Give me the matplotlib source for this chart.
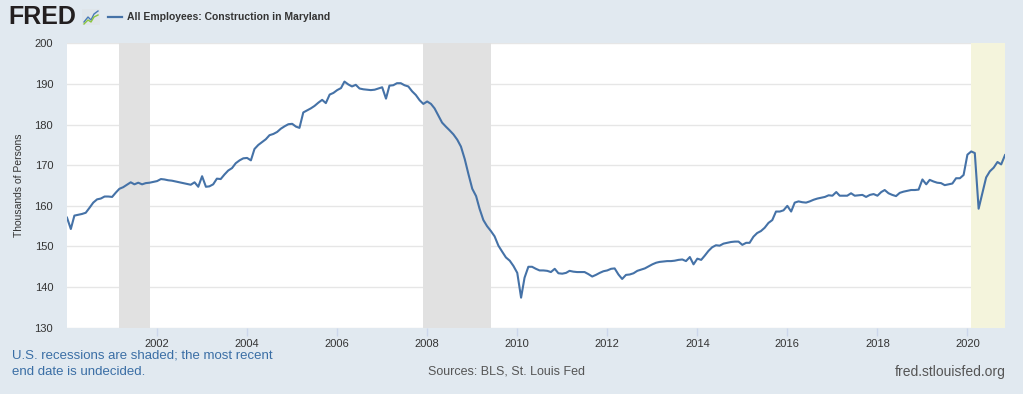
import matplotlib
matplotlib.use("Agg")
import matplotlib.pyplot as plt
import matplotlib.dates as mdates
from matplotlib.lines import Line2D
from matplotlib.patches import Rectangle
import pandas as pd

plt.rcParams['font.family'] = ['Liberation Sans', 'DejaVu Sans']

# ---- data (thousands of persons, monthly from Jan 2000) ----
start_date = "2000-01-01"
employees = [
    157.1, 154.3, 157.6, 157.8, 158.0, 158.3, 159.5, 160.8, 161.6, 161.8, 162.3, 162.3,
    162.2, 163.3, 164.2, 164.6, 165.2, 165.8, 165.3, 165.7, 165.3, 165.6, 165.7, 165.9,
    166.1, 166.6, 166.5, 166.3, 166.2, 166.0, 165.8, 165.6, 165.4, 165.2, 165.8, 164.7,
    167.3, 164.7, 164.8, 165.3, 166.7, 166.6, 167.7, 168.7, 169.3, 170.5, 171.2, 171.7,
    171.8, 171.2, 174.0, 175.0, 175.7, 176.4, 177.4, 177.7, 178.2, 179.0, 179.6, 180.1,
    180.2, 179.5, 179.2, 183.0, 183.5, 184.0, 184.6, 185.4, 186.1, 185.3, 187.4, 187.8,
    188.5, 189.0, 190.6, 189.9, 189.4, 189.8, 188.9, 188.7, 188.6, 188.5, 188.6, 188.9,
    189.2, 186.4, 189.6, 189.7, 190.2, 190.2, 189.7, 189.4, 188.2, 187.3, 186.0, 185.1,
    185.7, 185.1, 184.0, 182.2, 180.5, 179.5, 178.6, 177.6, 176.3, 174.6, 171.5, 167.8,
    164.2, 162.4, 159.3, 156.5, 155.0, 153.8, 152.5, 150.2, 148.7, 147.3, 146.5, 145.2,
    143.5, 137.4, 142.3, 145.0, 145.0, 144.5, 144.1, 144.1, 144.0, 143.7, 144.5, 143.4,
    143.3, 143.5, 144.0, 143.8, 143.7, 143.7, 143.7, 143.2, 142.6, 143.0, 143.5, 143.9,
    144.1, 144.5, 144.6, 143.1, 142.0, 143.0, 143.1, 143.4, 144.0, 144.3, 144.6, 145.1,
    145.6, 146.0, 146.2, 146.3, 146.4, 146.4, 146.5, 146.7, 146.8, 146.4, 147.4, 145.6,
    147.0, 146.7, 147.7, 148.9, 149.8, 150.3, 150.2, 150.7, 150.9, 151.1, 151.2, 151.2,
    150.4, 150.9, 150.9, 152.4, 153.3, 153.8, 154.6, 155.8, 156.5, 158.6, 158.6, 158.9,
    160.0, 158.6, 160.8, 161.1, 160.9, 160.8, 161.1, 161.5, 161.8, 162.0, 162.2, 162.6,
    162.5, 163.4, 162.5, 162.5, 162.5, 163.1, 162.5, 162.6, 162.7, 162.2, 162.7, 162.9,
    162.5, 163.4, 163.9, 163.1, 162.7, 162.4, 163.2, 163.5, 163.7, 163.9, 163.9, 164.0,
    166.5, 165.3, 166.4, 166.0, 165.7, 165.6, 165.1, 165.3, 165.5, 166.8, 166.8, 167.6,
    172.6, 173.4, 173.0, 159.3, 163.1, 167.0, 168.5, 169.4, 170.8, 170.2, 172.5,
]
recession_starts = ["2001-03-01", "2007-12-01", "2020-02-01"]
recession_ends = ["2001-11-01", "2009-06-01", "2020-11-01"]
recession_colors = ["#e1e1e1", "#e1e1e1", "#f4f4dc"]
tick_years = [2002, 2004, 2006, 2008, 2010, 2012, 2014, 2016, 2018, 2020]
y_ticks = [130, 140, 150, 160, 170, 180, 190, 200]

dates = pd.date_range(start_date, periods=len(employees), freq="MS")

BG = "#e1e9f0"
LINE = "#4572a7"

fig = plt.figure(figsize=(10.23, 3.94), dpi=100, facecolor=BG)
ax = fig.add_axes([67 / 1023, 1 - 327.7 / 394, 938 / 1023, (327.7 - 43.4) / 394])
ax.set_facecolor("white")

for s, e, c in zip(recession_starts, recession_ends, recession_colors):
    ax.axvspan(pd.Timestamp(s), pd.Timestamp(e), color=c, lw=0, zorder=1)

ax.plot(dates, employees, color=LINE, lw=1.5, zorder=3, solid_joinstyle="round")

ax.set_xlim(dates[0], dates[-1])
ax.set_ylim(130, 200)
ax.set_yticks(y_ticks)
ax.set_xticks([pd.Timestamp(f"{y}-01-01") for y in tick_years])
ax.xaxis.set_major_formatter(mdates.DateFormatter("%Y"))

ax.grid(axis="y", color="#e6e6e6", lw=1, zorder=0)
ax.set_axisbelow(True)
for sp in ax.spines.values():
    sp.set_visible(False)

ax.tick_params(axis="y", length=0, pad=10, labelsize=8, labelcolor="#333333")
ax.tick_params(axis="x", length=6, width=1, color="#ccd6eb", pad=2,
               labelsize=8, labelcolor="#333333")

ax.set_ylabel("Thousands of Persons", fontsize=7.5, color="#333333")
ax.yaxis.set_label_coords(-0.046, 0.5)

# ---- header ----
fig.text(8 / 1023, 1 - 17 / 394, "FRED", fontsize=18, fontweight="bold",
         color="#231f20", va="center", ha="left")
# small logo icon
fig.patches.append(Rectangle((82 / 1023, 1 - 25 / 394), 18 / 1023, 16 / 394,
                             transform=fig.transFigure, facecolor="#dfe5ea",
                             edgecolor="none"))
fig.lines.append(Line2D([84 / 1023, 88 / 1023, 91 / 1023, 94 / 1023, 98 / 1023],
                        [1 - 22 / 394, 1 - 17 / 394, 1 - 20 / 394, 1 - 14 / 394, 1 - 11 / 394],
                        transform=fig.transFigure, color="#4a7bb7", lw=1))
fig.lines.append(Line2D([84 / 1023, 88 / 1023, 91 / 1023, 94 / 1023, 98 / 1023],
                        [1 - 24 / 394, 1 - 20 / 394, 1 - 22 / 394, 1 - 17 / 394, 1 - 15 / 394],
                        transform=fig.transFigure, color="#8cc63f", lw=1))
fig.lines.append(Line2D([108 / 1023, 122 / 1023], [1 - 17 / 394, 1 - 17 / 394],
                        transform=fig.transFigure, color=LINE, lw=1.6))
fig.text(127 / 1023, 1 - 17 / 394, "All Employees: Construction in Maryland",
         fontsize=7.5, fontweight="bold", color="#333333", va="center", ha="left")

# ---- footer ----
fig.text(12 / 1023, 1 - 356 / 394, "U.S. recessions are shaded; the most recent",
         fontsize=9.5, color="#3a6ea5", va="center", ha="left")
fig.text(12 / 1023, 1 - 372 / 394, "end date is undecided.",
         fontsize=9.5, color="#3a6ea5", va="center", ha="left")
fig.text(507 / 1023, 1 - 372 / 394, "Sources: BLS, St. Louis Fed",
         fontsize=9, color="#555555", va="center", ha="center")
fig.text(1006 / 1023, 1 - 372 / 394, "fred.stlouisfed.org",
         fontsize=10, color="#555555", va="center", ha="right")

fig.savefig("out.png", dpi=100, facecolor=BG)
